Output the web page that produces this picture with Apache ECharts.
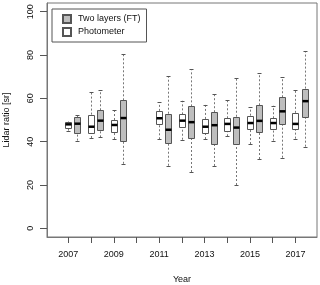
<!DOCTYPE html>
<html>
<head>
<meta charset="utf-8">
<script src="https://cdn.jsdelivr.net/npm/echarts@6/dist/echarts.min.js"></script>
<style>html,body{margin:0;padding:0;background:#fff}#c{width:320px;height:285px}</style>
</head>
<body>
<div id="c"></div>
<script>
// Years of the campaigns
var years = [2007, 2008, 2009, 2011, 2012, 2013, 2014, 2015, 2016, 2017];
// Photometer: [min, q1, median, q3, max]
var photometer = [
  [45.1, 46.2, 48.0, 49.0, 49.3],
  [41.7, 43.9, 46.9, 52.5, 62.8],
  [41.2, 44.6, 47.7, 50.0, 54.5],
  [41.1, 48.2, 50.8, 54.2, 58.3],
  [40.9, 46.9, 49.7, 52.6, 58.9],
  [41.2, 43.9, 46.9, 50.5, 57.1],
  [42.5, 45.1, 48.2, 50.8, 59.1],
  [38.9, 45.7, 48.6, 52.0, 56.0],
  [40.5, 46.0, 48.6, 50.8, 56.6],
  [41.4, 45.7, 48.2, 53.3, 64.0]
];
// Two layers (FT): [min, q1, median, q3, max]
var twoLayers = [
  [40.5, 43.9, 48.3, 51.3, 52.5],
  [42.0, 45.5, 49.7, 54.5, 63.7],
  [29.8, 40.5, 50.9, 59.1, 80.6],
  [28.9, 39.4, 45.5, 52.9, 70.3],
  [26.0, 41.6, 49.0, 56.3, 73.4],
  [28.8, 38.9, 47.6, 53.6, 62.0],
  [20.0, 38.8, 46.5, 51.5, 69.3],
  [32.0, 44.5, 49.6, 56.8, 71.6],
  [32.6, 48.0, 54.0, 60.5, 69.7],
  [37.7, 51.5, 58.7, 64.5, 81.8]
];
var xTicks = [2007, 2008, 2009, 2010, 2011, 2012, 2013, 2014, 2015, 2016, 2017];
var xLabels = [2007, 2009, 2011, 2013, 2015, 2017];
var yLabels = [0, 20, 40, 60, 80, 100];

function buildData(stats) {
  return years.map(function (y, i) { return [y].concat(stats[i]); });
}

function makeRender(offset, fill) {
  return function (params, api) {
    var x = api.value(0) + offset;
    var half = api.size([0.3, 0])[0] / 2;
    var cx = Math.round(api.coord([x, 0])[0]);
    var py = function (k) { return api.coord([x, api.value(k)])[1]; };
    var yMin = py(1), yQ1 = py(2), yMed = py(3), yQ3 = py(4), yMax = py(5);
    var L = Math.round(cx - half) + 0.5, R = Math.round(cx + half) + 0.5;
    var sh = 2;
    var wStyle = { stroke: '#777', lineWidth: 1, lineDash: [2, 2] };
    var sStyle = { stroke: '#555', lineWidth: 1 };
    return {
      type: 'group',
      children: [
        { type: 'line', shape: { x1: cx + 0.5, y1: yQ3, x2: cx + 0.5, y2: yMax }, style: wStyle },
        { type: 'line', shape: { x1: cx + 0.5, y1: yMin, x2: cx + 0.5, y2: yQ1 }, style: wStyle },
        { type: 'line', shape: { x1: cx - sh + 0.5, y1: Math.round(yMax) + 0.5, x2: cx + sh + 0.5, y2: Math.round(yMax) + 0.5 }, style: sStyle },
        { type: 'line', shape: { x1: cx - sh + 0.5, y1: Math.round(yMin) + 0.5, x2: cx + sh + 0.5, y2: Math.round(yMin) + 0.5 }, style: sStyle },
        { type: 'rect', shape: { x: L, y: Math.round(yQ3) + 0.5, width: R - L, height: Math.round(yQ1) - Math.round(yQ3) },
          style: { fill: fill, stroke: '#555', lineWidth: 1 } },
        { type: 'line', shape: { x1: L, y1: yMed, x2: R, y2: yMed }, style: { stroke: '#000', lineWidth: 2.5 } }
      ]
    };
  };
}

var font = 'Liberation Sans, Arial, sans-serif';
var chart = echarts.init(document.getElementById('c'), null, { renderer: 'canvas' });
chart.setOption({
  animation: false,
  backgroundColor: '#fff',
  grid: { left: 47, right: 3, top: 3, bottom: 48, show: true, borderColor: '#777', borderWidth: 1,
          backgroundColor: 'transparent', containLabel: false, outerBoundsMode: 'none' },
  legend: {
    left: 52, top: 9, orient: 'vertical', itemGap: 3, itemWidth: 8, itemHeight: 8,
    icon: 'rect', padding: [5, 6, 5, 10], borderColor: '#555', borderWidth: 1,
    textStyle: { fontFamily: font, fontSize: 9, color: '#111', padding: [0, 0, 0, 2] },
    data: ['Two layers (FT)', 'Photometer']
  },
  xAxis: {
    type: 'value', min: 2006.06, max: 2017.95,
    name: 'Year', nameLocation: 'middle', nameGap: 38,
    nameTextStyle: { fontFamily: font, fontSize: 9, color: '#111' },
    axisLine: { show: true, onZero: false, lineStyle: { color: '#777', width: 1 } }, splitLine: { show: false },
    axisTick: { show: true, inside: false, length: 6, lineStyle: { color: '#555', width: 1 }, customValues: xTicks },
    axisLabel: { margin: 13, fontFamily: font, fontSize: 9, color: '#111', customValues: xLabels, formatter: function (v) { return String(v); } }
  },
  yAxis: {
    type: 'value', min: -4, max: 104,
    name: 'Lidar ratio [sr]', nameLocation: 'middle', nameGap: 36, nameRotate: 90,
    nameTextStyle: { fontFamily: font, fontSize: 9, color: '#111' },
    axisLine: { show: true, onZero: false, lineStyle: { color: '#777', width: 1 } }, splitLine: { show: false },
    axisTick: { show: true, inside: false, length: 7, lineStyle: { color: '#555', width: 1 }, customValues: yLabels },
    axisLabel: { margin: 12, rotate: 90, fontFamily: font, fontSize: 9, color: '#111', customValues: yLabels }
  },
  series: [
    { name: 'Two layers (FT)', type: 'custom', renderItem: makeRender(0.4, '#bebebe'),
      itemStyle: { color: '#bebebe', borderColor: '#555', borderWidth: 1 },
      encode: { x: 0, y: [1, 2, 3, 4, 5] }, data: buildData(twoLayers) },
    { name: 'Photometer', type: 'custom', renderItem: makeRender(0, '#ffffff'),
      itemStyle: { color: '#ffffff', borderColor: '#555', borderWidth: 1 },
      encode: { x: 0, y: [1, 2, 3, 4, 5] }, data: buildData(photometer) }
  ]
});
</script>
</body>
</html>
